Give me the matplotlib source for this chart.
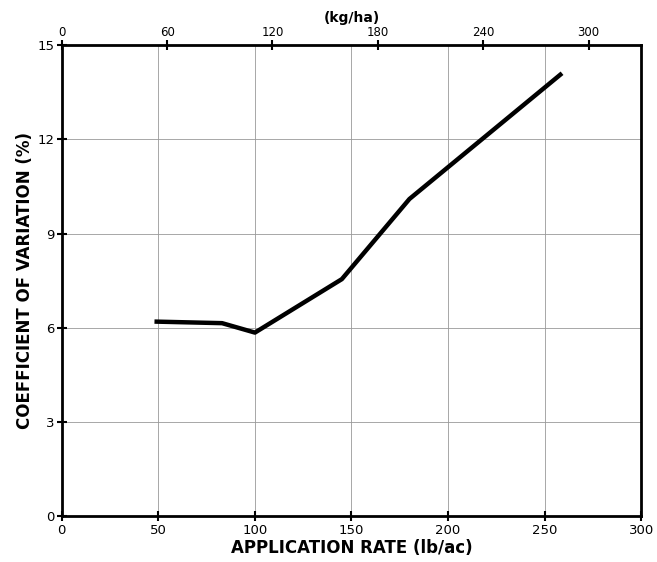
import numpy as np
import matplotlib
matplotlib.use('Agg')
import matplotlib.pyplot as plt

# application rate (lb/ac) vs coefficient of variation (%)
rate = [48, 83, 100, 145, 180, 259]
cv = [6.2, 6.15, 5.85, 7.55, 10.1, 14.1]

x_ticks = [0, 50, 100, 150, 200, 250, 300]
y_ticks = [0, 3, 6, 9, 12, 15]
kg_ticks = [0, 60, 120, 180, 240, 300]
LB_TO_KG = 1.1  # scale as drawn on the original figure

plt.rcParams['font.family'] = ['DejaVu Sans']

fig = plt.figure(figsize=(6.57, 5.62), dpi=100)
ax = fig.add_axes([0.094, 0.081, 0.882, 0.839])

ax.plot(rate, cv, color='black', lw=3.2, solid_joinstyle='round', solid_capstyle='butt')

ax.set_xlim(0, 300)
ax.set_ylim(0, 15)
ax.set_xticks(x_ticks)
ax.set_yticks(y_ticks)
ax.grid(True, color='#999999', lw=0.6)
for s in ax.spines.values():
    s.set_linewidth(2.0)
ax.tick_params(axis='both', direction='inout', length=7, width=1.5, labelsize=9.5, pad=2)

ax.set_xlabel('APPLICATION RATE (lb/ac)', fontsize=12, fontweight='bold', labelpad=1)
ax.set_ylabel('COEFFICIENT OF VARIATION (%)', fontsize=12, fontweight='bold', labelpad=2)

top = ax.secondary_xaxis('top', functions=(lambda v: v * LB_TO_KG, lambda v: v / LB_TO_KG))
top.set_xticks(kg_ticks)
top.tick_params(direction='inout', length=7, width=1.5, labelsize=8.5, pad=1)
top.set_xlabel('(kg/ha)', fontsize=10, fontweight='bold', labelpad=3)

fig.savefig('out.png', dpi=100)
